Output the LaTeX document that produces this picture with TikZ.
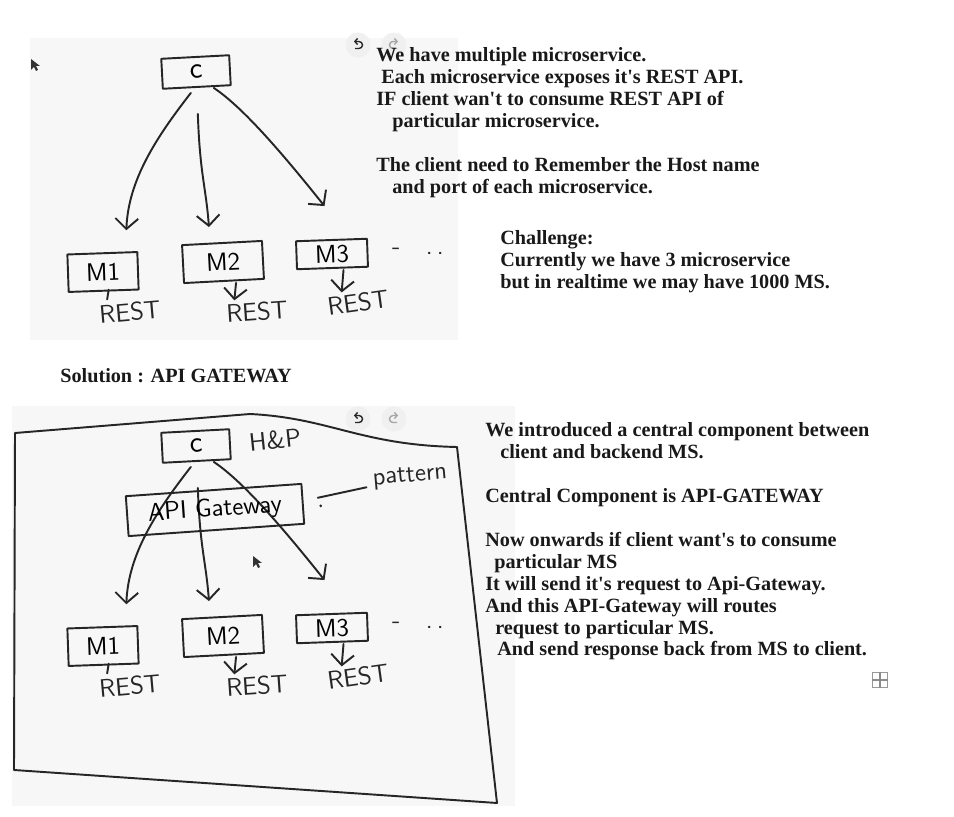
\documentclass[tikz,border=0pt]{standalone}
\usepackage{fontspec}
\setmainfont{Liberation Serif}[Ligatures=TeXOff]
\usetikzlibrary{arrows.meta,calc}

\tikzset{
  ink/.style={line width=1.1pt, draw=black!85, line cap=round, line join=round},
  handbox/.style={ink, font=\sffamily\Large, inner sep=0pt},
  handtext/.style={font=\sffamily\Large, text=black!85, inner sep=0pt},
  note/.style={anchor=north west, align=left, inner sep=0pt,
    font=\bfseries\fontsize{11.5}{12.5}\selectfont, text=black!90},
  paper/.style={fill=black!3},
  icon/.style={circle, fill=black!6, minimum size=0.5cm, inner sep=0pt},
  iconarrow/.style={line width=0.8pt, -{Straight Barb[length=1.5pt,width=3.5pt]}},
}

\begin{document}
\begin{tikzpicture}[x=0.02cm, y=-0.02cm, >={Straight Barb[length=6pt,width=13pt]}]
  \useasboundingbox (0,0) rectangle (954,817);
  % whiteboard backgrounds
  \fill[paper] (30,38) rectangle (458,340);
  \fill[paper] (12,406) rectangle (515,806);

  % same sketch twice, the second one further down
  \foreach \dy/\n in {0/a, 374/b}{
    \begin{scope}[shift={(0,\dy)}]
      \node[handbox, minimum width=1.36cm, minimum height=0.6cm, font=\sffamily\LARGE, rotate=3] (client-\n) at (196,72) {c};
      \node[handbox, minimum width=1.4cm, minimum height=0.75cm, rotate=2] (ms1-\n) at (103,272) {M1};
      \node[handbox, minimum width=1.6cm, minimum height=0.76cm, rotate=3] (ms2-\n) at (223,262) {M2};
      \node[handbox, minimum width=1.42cm, minimum height=0.56cm, rotate=2] (ms3-\n) at (332,254) {M3};
      \node[handtext] (more-\n) at (418,251) {-\quad.\,.};
      \node[handtext, rotate=5] (rest1-\n) at (130,312) {REST};
      \node[handtext, rotate=4] (rest2-\n) at (257,312) {REST};
      \node[handtext, rotate=8] (rest3-\n) at (358,303) {REST};

      % calls from client
      \draw[ink, ->] ($(client-\n.south)+(-6,5)$) .. controls +(-35,45) and +(2,-50) .. ($(ms1-\n.north)+(24,-22)$);
      \draw[ink, ->] ($(client-\n.south)+(1,26)$) .. controls +(2,60) and +(-3,-40) .. ($(ms2-\n.north)+(-13,-15)$);
      \draw[ink, ->] ($(client-\n.south)+(17,0)$) .. controls +(30,20) and +(-40,-50) .. ($(ms3-\n.north)+(-7,-33)$);

      % exposed REST apis
      \draw[ink] ($(ms1-\n.south)+(5,-2)$) -- ($(rest1-\n.north)+(-22,-3)$);
      \draw[ink, ->] ($(ms2-\n.south)+(12,1)$) -- ($(rest2-\n.north)+(-22,-2)$);
      \draw[ink, ->] ($(ms3-\n.south)+(11,1)$) -- ($(rest3-\n.north)+(-15,-1)$);

      % editor icons
      \node[icon] (undo-\n) at (358,45) {};
      \node[icon] (redo-\n) at (394,45) {};
      \draw[iconarrow, black!85] ($(undo-\n)+(-3,3.5)$) -- ($(undo-\n)+(1,3.5)$) arc[start angle=90, end angle=-90, radius=3.5] -- ($(undo-\n)+(-4,-3.5)$);
      \draw[iconarrow, black!35] ($(redo-\n)+(3,3.5)$) -- ($(redo-\n)+(-1,3.5)$) arc[start angle=90, end angle=270, radius=3.5] -- ($(redo-\n)+(4,-3.5)$);
    \end{scope}
  }

  % hand drawn frame round the second sketch
  \draw[ink] (15,433) -- (250,414) .. controls (330,418) and (360,445) .. (457,447) -- (497,803) -- (14,770) -- cycle;

  % gateway in the middle
  \node[handbox, minimum width=3.52cm, minimum height=0.8cm, rotate=4] (gateway) at (215,510) {API Gateway};
  \node[handtext, rotate=6] (hp) at (275,440) {H\&P};
  \node[handtext, rotate=5] (pattern) at (410,477) {pattern};
  \draw[ink] ($(gateway.east)+(14,-6)$) -- ($(pattern.west)+(-6,7)$);
  \fill[black!85] ($(gateway.east)+(17,2)$) circle (1.5);

  % move handle and mouse pointers
  \node[draw=black!40, fill=white, minimum size=0.3cm, inner sep=0pt] (grip) at (880,680) {};
  \draw[black!45, line width=0.6pt] (grip.north) -- (grip.south) (grip.west) -- (grip.east);
  \foreach \cx/\cy in {31/59, 253/556}
    \fill[black!80, shift={(\cx,\cy)}] (0,0) -- (0,11) -- (3,8) -- (5,12) -- (7,11) -- (5,7) -- (9,7) -- cycle;

  % notes
  \node[note] (problem) at (376,47) {We have multiple microservice.\\
    \hspace*{0.1cm}Each microservice exposes it's REST API.\\
    IF client wan't to consume REST API of\\
    \hspace*{0.32cm}particular microservice.\\[12.5pt]
    The client need to Remember the Host name\\
    \hspace*{0.32cm}and port of each microservice.};
  \node[note] (challenge) at (500,230) {Challenge:\\
    Currently we have 3 microservice\\
    but in realtime we may have 1000 MS.};
  \node[note] (solution) at (60,368) {Solution : API GATEWAY};
  \node[note] (answer) at (485,422) {We introduced a central component between\\
    \hspace*{0.3cm}client and backend MS.\\[12.5pt]
    Central Component is API-GATEWAY\\[12.5pt]
    Now onwards if client want's to consume\\
    \hspace*{0.18cm}particular MS\\
    It will send it's request to Api-Gateway.\\
    And this API-Gateway will routes\\
    \hspace*{0.2cm}request to particular MS.\\
    \hspace*{0.24cm}And send response back from MS to client.};
\end{tikzpicture}
\end{document}
